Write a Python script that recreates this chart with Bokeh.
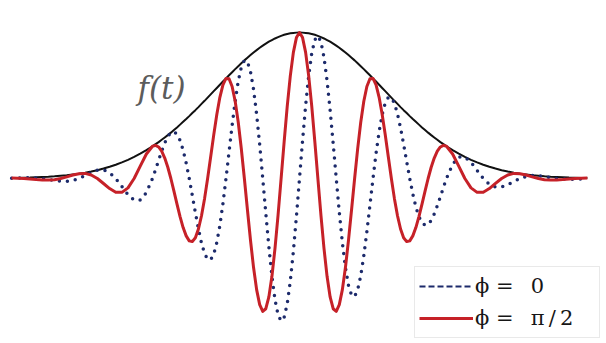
from bokeh.plotting import figure
from bokeh.models import Range1d, Label, Legend, LegendItem, ColumnDataSource
from bokeh.embed import file_html
from bokeh.resources import INLINE

# sample positions (t in units of the carrier period)
t = ([k / 12 for k in range(-47, -24)]
     + [k / 24 for k in range(-48, 49)]
     + [k / 12 for k in range(25, 48)])

# envelope f(t)
envelope = [
    # outer left
    0.003, 0.004, 0.005, 0.006, 0.008, 0.010, 0.012, 0.015, 0.019, 0.023, 0.028, 0.033,
    0.040, 0.048, 0.057, 0.068, 0.080, 0.094, 0.110, 0.128, 0.148, 0.170, 0.194,
    # centre, left half
    0.221, 0.235, 0.249, 0.265, 0.281, 0.297, 0.314, 0.332, 0.350, 0.369, 0.388, 0.407,
    0.427, 0.448, 0.468, 0.489, 0.511, 0.532, 0.554, 0.576, 0.598, 0.620, 0.642, 0.664,
    0.685, 0.707, 0.728, 0.749, 0.769, 0.789, 0.809, 0.827, 0.845, 0.863, 0.879, 0.895,
    0.910, 0.924, 0.937, 0.948, 0.959, 0.968, 0.977, 0.984, 0.990, 0.994, 0.997, 0.999,
    1.000,
    # centre, right half
    0.999, 0.997, 0.994, 0.990, 0.984, 0.977, 0.968, 0.959, 0.948, 0.937, 0.924, 0.910,
    0.895, 0.879, 0.863, 0.845, 0.827, 0.809, 0.789, 0.769, 0.749, 0.728, 0.707, 0.685,
    0.664, 0.642, 0.620, 0.598, 0.576, 0.554, 0.532, 0.511, 0.489, 0.468, 0.448, 0.427,
    0.407, 0.388, 0.369, 0.350, 0.332, 0.314, 0.297, 0.281, 0.265, 0.249, 0.235, 0.221,
    # outer right
    0.194, 0.170, 0.148, 0.128, 0.110, 0.094, 0.080, 0.068, 0.057, 0.048, 0.040, 0.033,
    0.028, 0.023, 0.019, 0.015, 0.012, 0.010, 0.008, 0.006, 0.005, 0.004, 0.003,
]

# phi = pi/2 (red, solid)
wave_red = [
    0.003, 0.002, 0.000, -0.003, -0.007, -0.010, -0.010, -0.008, 0.000, 0.011, 0.024, 0.033,
    0.035, 0.024, 0.000, -0.034, -0.069, -0.094, -0.095, -0.064, 0.000, 0.085, 0.168,
    0.221, 0.227, 0.216, 0.187, 0.140, 0.077, 0.000, -0.086, -0.175, -0.261, -0.336, -0.393,
    -0.427, -0.432, -0.406, -0.346, -0.255, -0.138, 0.000, 0.149, 0.299, 0.438, 0.556, 0.641,
    0.685, 0.683, 0.630, 0.529, 0.385, 0.204, 0.000, -0.214, -0.423, -0.610, -0.761, -0.864,
    -0.910, -0.892, -0.811, -0.670, -0.479, -0.251, 0.000, 0.255, 0.495, 0.703, 0.864, 0.965,
    1.000,
    0.965, 0.864, 0.703, 0.495, 0.255, 0.000, -0.251, -0.479, -0.670, -0.811, -0.892, -0.910,
    -0.864, -0.761, -0.610, -0.423, -0.214, 0.000, 0.204, 0.385, 0.529, 0.630, 0.683, 0.685,
    0.641, 0.556, 0.438, 0.299, 0.149, 0.000, -0.138, -0.255, -0.346, -0.406, -0.432, -0.427,
    -0.393, -0.336, -0.261, -0.175, -0.086, 0.000, 0.077, 0.140, 0.187, 0.216, 0.227, 0.221,
    0.168, 0.085, 0.000, -0.064, -0.095, -0.094, -0.069, -0.034, 0.000, 0.024, 0.035, 0.033,
    0.024, 0.011, 0.000, -0.008, -0.010, -0.010, -0.007, -0.003, 0.000, 0.002, 0.003,
]

# phi = 0 (blue, dotted)
wave_blue = [
    0.002, 0.003, 0.005, 0.005, 0.004, 0.000, -0.006, -0.013, -0.019, -0.020, -0.014, 0.000,
    0.020, 0.042, 0.057, 0.059, 0.040, 0.000, -0.055, -0.111, -0.148, -0.147, -0.097,
    0.000, 0.061, 0.125, 0.187, 0.243, 0.287, 0.314, 0.320, 0.303, 0.261, 0.194, 0.105,
    0.000, -0.116, -0.234, -0.346, -0.442, -0.514, -0.554, -0.556, -0.518, -0.438, -0.321, -0.172,
    0.000, 0.183, 0.364, 0.529, 0.666, 0.762, 0.809, 0.799, 0.732, 0.610, 0.440, 0.232,
    0.000, -0.239, -0.468, -0.670, -0.830, -0.935, -0.977, -0.950, -0.857, -0.703, -0.499, -0.259,
    0.000,
    0.259, 0.499, 0.703, 0.857, 0.950, 0.977, 0.935, 0.830, 0.670, 0.468, 0.239, 0.000,
    -0.232, -0.440, -0.610, -0.732, -0.799, -0.809, -0.762, -0.666, -0.529, -0.364, -0.183, 0.000,
    0.172, 0.321, 0.438, 0.518, 0.556, 0.554, 0.514, 0.442, 0.346, 0.234, 0.116, 0.000,
    -0.105, -0.194, -0.261, -0.303, -0.320, -0.314, -0.287, -0.243, -0.187, -0.125, -0.061, 0.000,
    0.097, 0.147, 0.148, 0.111, 0.055, 0.000, -0.040, -0.059, -0.057, -0.042, -0.020, 0.000,
    0.014, 0.020, 0.019, 0.013, 0.006, 0.000, -0.004, -0.005, -0.005, -0.003, -0.002,
]

labels = ["ϕ = \u20020", "ϕ = \u2002π\u2009/\u20092"]
envelope_label = "f(t)"

for arr in (envelope, wave_red, wave_blue):
    if len(arr) != len(t):
        raise ValueError(f"length mismatch {len(arr)} vs {len(t)}")

BLUE = "#1c2a6b"
RED = "#c62128"
BLACK = "#111111"

p = figure(width=606, height=343, output_backend="svg", toolbar_location=None,
           x_range=Range1d(-4.068, 4.177), y_range=Range1d(-1.130, 1.219),
           min_border=0, background_fill_color="white", border_fill_color="white")
p.axis.visible = False
p.grid.visible = False
p.outline_line_color = None
# an off-screen range used only for the legend swatches
p.extra_x_ranges = {"legend_only": Range1d(50, 60)}

src = ColumnDataSource(dict(t=t, env=envelope, red=wave_red, blue=wave_blue))

p.line("t", "env", source=src, line_color=BLACK, line_width=2)
p.line("t", "blue", source=src, line_color=BLUE, line_width=3.5,
       line_dash="0 8", line_cap="round")
p.line("t", "red", source=src, line_color=RED, line_width=3, line_join="round")

blue_leg = p.line("t", "blue", source=src, x_range_name="legend_only",
                  line_color=BLUE, line_width=2, line_dash="6 3")
red_leg = p.line("t", "red", source=src, x_range_name="legend_only",
                 line_color=RED, line_width=3)

p.add_layout(Label(x=-1.878, y=0.623, text=envelope_label, text_align="center",
                   text_baseline="middle", text_font="DejaVu Serif",
                   text_font_style="italic", text_font_size="31px",
                   text_color="#5c5c5c"))

legend = Legend(items=[LegendItem(label=labels[0], renderers=[blue_leg]),
                       LegendItem(label=labels[1], renderers=[red_leg])],
                location=(414, 5), glyph_width=54, glyph_height=30,
                label_height=30, label_width=120, label_standoff=2, spacing=2,
                padding=4, margin=0, label_text_font="DejaVu Serif",
                label_text_font_size="21px", label_text_color="#161616",
                border_line_color="#d4d4d4", border_line_width=1,
                background_fill_color="white", background_fill_alpha=1.0)
p.add_layout(legend)

open("out.html", "w").write(file_html(p, INLINE))
